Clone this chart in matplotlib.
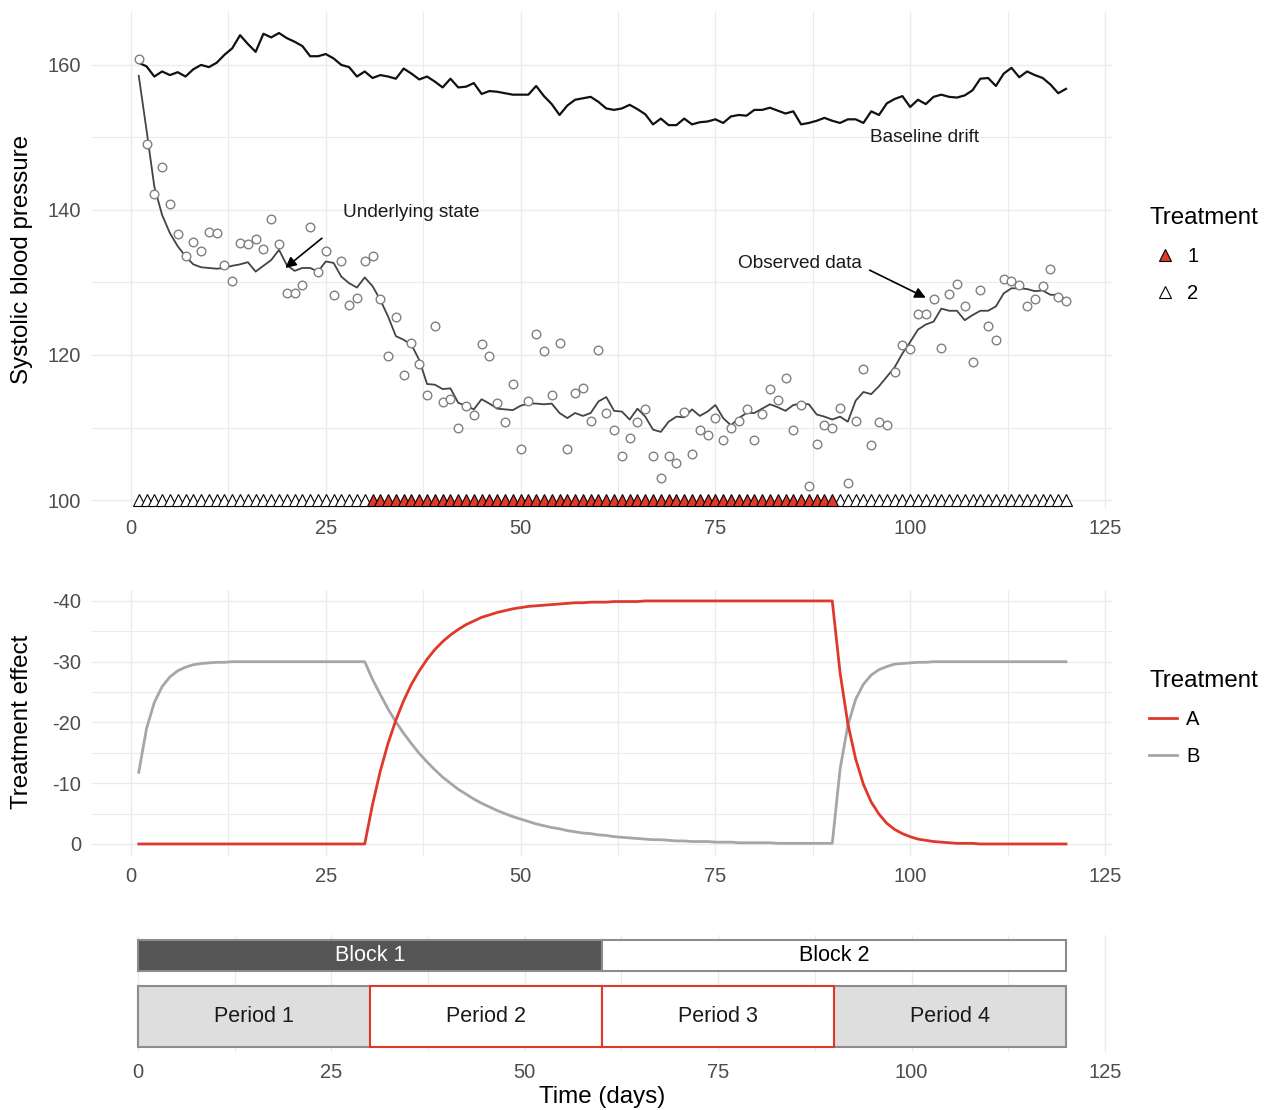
import matplotlib.pyplot as plt
from matplotlib.lines import Line2D
from matplotlib.ticker import MultipleLocator

plt.rcParams['font.family'] = ['Liberation Sans', 'DejaVu Sans']
plt.rcParams['axes.unicode_minus'] = False

# ---- data ----
days = list(range(1, 121))

baseline = [160.3, 159.8, 158.4, 159.1, 158.6, 159.0, 158.4, 159.4, 160.0, 159.7,
            160.3, 161.4, 162.3, 164.1, 162.9, 161.8, 164.3, 163.8, 164.4, 163.7,
            163.2, 162.6, 161.2, 161.2, 161.5, 160.9, 160.0, 159.7, 158.4, 159.1,
            158.2, 158.6, 158.4, 158.1, 159.5, 158.8, 158.0, 158.4, 157.7, 156.9,
            158.1, 156.9, 157.0, 157.5, 156.0, 156.4, 156.3, 156.1, 155.9, 155.9,
            155.9, 157.1, 155.7, 154.6, 153.1, 154.4, 155.2, 155.4, 155.6, 154.9,
            154.0, 153.8, 154.0, 154.5, 153.9, 153.2, 151.8, 152.6, 151.7, 151.7,
            152.6, 151.8, 152.1, 152.2, 152.5, 152.0, 152.9, 153.1, 153.0, 153.8,
            153.8, 154.1, 153.7, 153.3, 153.6, 151.8, 152.0, 152.3, 152.7, 152.3,
            152.0, 152.5, 152.5, 152.0, 153.6, 153.1, 154.7, 155.3, 155.7, 154.2,
            155.2, 154.6, 155.6, 155.9, 155.6, 155.5, 155.8, 156.5, 158.1, 158.2,
            157.1, 158.8, 159.6, 158.3, 159.1, 158.6, 158.2, 157.3, 156.1, 156.7]

state = [158.5, 151.0, 143.2, 139.3, 136.8, 135.0, 133.6, 132.5, 132.1, 132.0,
         131.9, 132.0, 132.3, 132.5, 132.8, 131.5, 132.3, 133.1, 134.5, 132.4,
         131.6, 132.0, 132.0, 131.5, 132.9, 132.7, 130.8, 129.9, 129.3, 130.7,
         129.5, 127.6, 125.3, 122.6, 122.1, 121.4, 119.3, 116.0, 115.9, 115.3,
         115.4, 113.4, 113.0, 112.5, 113.9, 113.3, 112.6, 112.5, 112.4, 113.0,
         113.3, 113.3, 113.2, 113.3, 112.0, 111.3, 112.0, 111.6, 112.0, 113.6,
         114.2, 112.3, 112.2, 111.1, 112.6, 111.5, 109.7, 109.4, 110.8, 111.5,
         111.4, 112.5, 111.6, 112.2, 113.1, 111.3, 110.3, 111.3, 112.0, 112.0,
         112.6, 113.2, 112.8, 112.3, 113.1, 113.3, 113.2, 111.8, 111.5, 111.1,
         111.5, 110.8, 113.7, 114.9, 114.6, 115.7, 117.0, 118.3, 120.2, 121.8,
         123.5, 124.2, 124.6, 126.4, 126.1, 126.1, 124.8, 125.5, 126.1, 126.1,
         126.7, 128.5, 129.2, 129.2, 129.1, 128.8, 128.9, 128.3, 128.3, 127.6]

observed = [160.8, 149.1, 142.2, 145.9, 140.8, 136.7, 133.6, 135.6, 134.3, 136.9,
            136.8, 132.4, 130.2, 135.5, 135.3, 136.0, 134.6, 138.7, 135.3, 128.5,
            128.6, 129.7, 137.6, 131.4, 134.3, 128.3, 133.0, 126.9, 127.9, 133.0,
            133.7, 127.7, 119.8, 125.3, 117.3, 121.6, 118.7, 114.5, 124.0, 113.5,
            114.0, 110.0, 113.0, 111.7, 121.5, 119.9, 113.4, 110.7, 116.0, 107.0,
            113.7, 122.9, 120.5, 114.5, 121.7, 107.1, 114.7, 115.5, 110.9, 120.7,
            112.0, 109.7, 106.1, 108.5, 110.7, 112.6, 106.1, 103.1, 106.1, 105.1,
            112.1, 106.4, 109.7, 109.0, 111.3, 108.3, 110.0, 110.9, 112.6, 108.3,
            111.9, 115.3, 113.8, 116.8, 109.6, 113.1, 101.9, 107.7, 110.3, 109.9,
            112.7, 102.3, 110.9, 118.0, 107.6, 110.7, 110.3, 117.7, 121.4, 120.8,
            125.7, 125.7, 127.7, 120.9, 128.4, 129.8, 126.8, 119.1, 128.9, 124.0,
            122.0, 130.5, 130.2, 129.7, 126.8, 127.7, 129.5, 131.8, 128.0, 127.4]

treatment = ['2'] * 30 + ['1'] * 60 + ['2'] * 30

effect_a = ([0.0] * 30 +
            [-6.5, -12.0, -16.6, -20.4, -23.6, -26.3, -28.5, -30.4, -32.0, -33.3,
             -34.4, -35.3, -36.1, -36.7, -37.3, -37.7, -38.1, -38.4, -38.7, -38.9,
             -39.1, -39.2, -39.3, -39.4, -39.5, -39.6, -39.7, -39.7, -39.8, -39.8,
             -39.8, -39.9, -39.9, -39.9, -39.9] + [-40.0] * 25 +
            [-28.2, -19.8, -14.0, -9.8, -6.9, -4.9, -3.4, -2.4, -1.7, -1.2,
             -0.8, -0.6, -0.4, -0.3, -0.2, -0.1, -0.1, -0.1] + [0.0] * 12)

effect_b = ([-11.8, -19.0, -23.3, -25.9, -27.5, -28.5, -29.1, -29.5, -29.7, -29.8,
             -29.9, -29.9] + [-30.0] * 18 +
            [-27.1, -24.6, -22.2, -20.1, -18.2, -16.5, -14.9, -13.5, -12.2, -11.0,
             -10.0, -9.0, -8.2, -7.4, -6.7, -6.1, -5.5, -5.0, -4.5, -4.1,
             -3.7, -3.3, -3.0, -2.7, -2.5, -2.2, -2.0, -1.8, -1.7, -1.5,
             -1.4, -1.2, -1.1, -1.0, -0.9, -0.8, -0.7, -0.7, -0.6, -0.5,
             -0.5, -0.4, -0.4, -0.4, -0.3, -0.3, -0.3, -0.2, -0.2, -0.2,
             -0.2, -0.2, -0.1, -0.1, -0.1, -0.1, -0.1, -0.1, -0.1, -0.1] +
            [-12.3, -19.5, -23.8, -26.3, -27.8, -28.7, -29.2, -29.6, -29.7, -29.8,
             -29.9, -29.9] + [-30.0] * 18)

block_start = [0, 60]
block_end = [60, 120]
block_labels = ['Block 1', 'Block 2']
period_start = [0, 30, 60, 90]
period_end = [30, 60, 90, 120]
period_labels = ['Period 1', 'Period 2', 'Period 3', 'Period 4']
period_trt = ['2', '1', '1', '2']

RED = '#e0392b'
GREY = '#a6a6a6'
GRID = '#ebebeb'
TICK = '#4d4d4d'

W, H = 1265, 1110
fig = plt.figure(figsize=(W / 100, H / 100), dpi=100)


def px_axes(left, top, right, bottom):
    return fig.add_axes([left / W, 1 - bottom / H, (right - left) / W, (bottom - top) / H])


def style(ax, yaxis=True):
    for s in ax.spines.values():
        s.set_visible(False)
    ax.xaxis.set_major_locator(MultipleLocator(25))
    ax.xaxis.set_minor_locator(MultipleLocator(12.5))
    ax.grid(True, which='major', axis='x', color=GRID, lw=1.0)
    ax.grid(True, which='minor', axis='x', color=GRID, lw=0.8)
    if yaxis:
        ax.grid(True, which='major', axis='y', color=GRID, lw=1.0)
        ax.grid(True, which='minor', axis='y', color=GRID, lw=0.8)
    ax.tick_params(which='both', length=0, labelsize=14.5, labelcolor=TICK, pad=8)
    ax.set_axisbelow(True)


# ---- top panel ----
ax1 = px_axes(92, 12, 1112, 508)
style(ax1)
ax1.plot(days, baseline, color='#111111', lw=1.6, zorder=3)
ax1.plot(days, state, color='#444444', lw=1.3, zorder=3)
ax1.plot(days, observed, ls='none', marker='o', ms=6.2, mfc='white', mec='#808080',
         mew=1.0, zorder=4)
fills = {'1': RED, '2': 'white'}
for t in ['2', '1']:
    xs = [d for d, tt in zip(days, treatment) if tt == t]
    ax1.plot(xs, [100] * len(xs), ls='none', marker='^', ms=8, mfc=fills[t],
             mec='black', mew=0.8, zorder=5)
ax1.set_xlim(-5.0, 125.9)
ax1.set_ylim(98.9, 167.3)
ax1.yaxis.set_major_locator(MultipleLocator(20))
ax1.yaxis.set_minor_locator(MultipleLocator(10))

arrow = dict(arrowstyle='-|>', color='black', lw=1.2, mutation_scale=16,
             shrinkA=0, shrinkB=0)
ax1.annotate('', xy=(19.8, 132.0), xytext=(24.5, 136.1), arrowprops=arrow, zorder=6)
ax1.text(27.2, 139.6, 'Underlying state', fontsize=13.7, va='center', color='#1a1a1a')
ax1.annotate('', xy=(102.0, 127.9), xytext=(94.8, 131.7), arrowprops=arrow, zorder=6)
ax1.text(77.9, 132.6, 'Observed data', fontsize=13.7, va='center', color='#1a1a1a')
ax1.text(94.8, 150.0, 'Baseline drift', fontsize=13.7, va='center', color='#1a1a1a')

# ---- middle panel ----
ax2 = px_axes(92, 590, 1112, 856)
style(ax2)
ax2.plot(days, effect_b, color=GREY, lw=2.0)
ax2.plot(days, effect_a, color=RED, lw=2.0)
ax2.set_xlim(-5.0, 125.9)
ax2.set_ylim(1.98, -41.8)
ax2.yaxis.set_major_locator(MultipleLocator(10))
ax2.yaxis.set_minor_locator(MultipleLocator(5))

# ---- bottom panel ----
ax3 = px_axes(92, 935, 1112, 1052)
style(ax3, yaxis=False)
ax3.set_yticks([])
block_fill = ['#555555', 'white']
block_text = ['white', 'black']
ax3.barh([1.5] * 2, [e - s for s, e in zip(block_start, block_end)], left=block_start,
         height=0.5, color=block_fill, edgecolor='#8c8c8c', lw=1.5, zorder=2)
for s, e, lab, c in zip(block_start, block_end, block_labels, block_text):
    ax3.text((s + e) / 2, 1.5, lab, ha='center', va='center', fontsize=15.5, color=c, zorder=4)
for s, e, lab, t in zip(period_start, period_end, period_labels, period_trt):
    fc = 'white' if t == '1' else '#dedede'
    ec = RED if t == '1' else '#8c8c8c'
    ax3.barh(0.5, e - s, left=s, height=1.0, color=fc, edgecolor=ec, lw=1.5,
             zorder=3 if t == '1' else 2)
    ax3.text((s + e) / 2, 0.5, lab, ha='center', va='center', fontsize=15.5, color='#1a1a1a', zorder=4)
ax3.set_xlim(-5.94, 125.9)
ax3.set_ylim(-0.08, 1.84)
ax3.set_xlabel('Time (days)', fontsize=17.4, labelpad=3)

# ---- axis titles ----
fig.text(22 / W, 1 - 260 / H, 'Systolic blood pressure', rotation=90, fontsize=17.4,
         ha='center', va='center')
fig.text(22 / W, 1 - 722 / H, 'Treatment effect', rotation=90, fontsize=17.4,
         ha='center', va='center')

# ---- legends ----
h1 = [Line2D([], [], ls='none', marker='^', ms=8, mfc=RED, mec='black', mew=0.8),
      Line2D([], [], ls='none', marker='^', ms=8, mfc='white', mec='black', mew=0.8)]
fig.legend(h1, ['1', '2'], title='Treatment', loc='upper left',
           bbox_to_anchor=(1141 / W, 1 - 199 / H), frameon=False, fontsize=14.5,
           title_fontsize=17.4, alignment='left', handlelength=1.6, handletextpad=0.3,
           labelspacing=0.9, borderaxespad=0)
h2 = [Line2D([], [], color=RED, lw=2.0), Line2D([], [], color=GREY, lw=2.0)]
fig.legend(h2, ['A', 'B'], title='Treatment', loc='upper left',
           bbox_to_anchor=(1141 / W, 1 - 662 / H), frameon=False, fontsize=14.5,
           title_fontsize=17.4, alignment='left', handlelength=1.4, handletextpad=0.45,
           labelspacing=0.9, borderaxespad=0)

fig.savefig('out.png', dpi=100)
